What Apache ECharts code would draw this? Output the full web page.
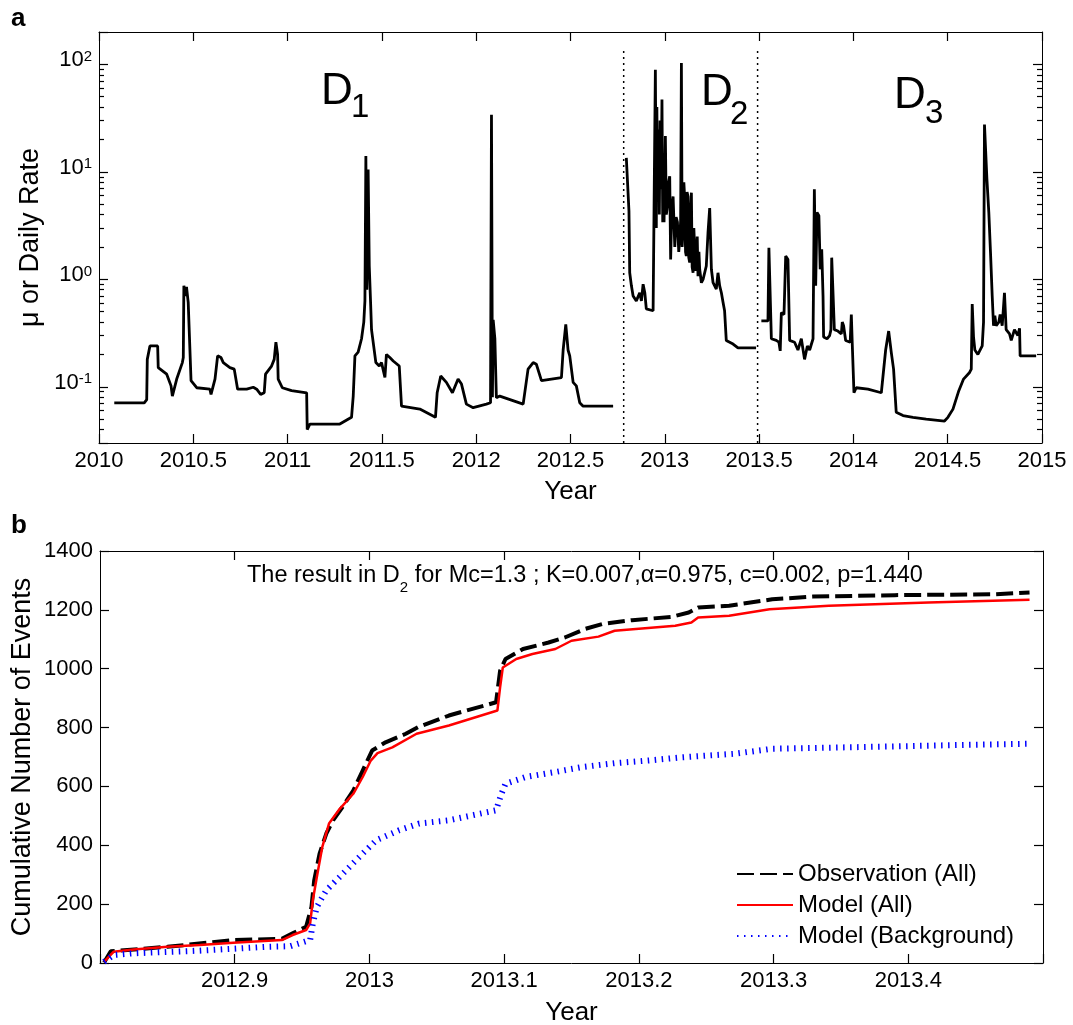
<!DOCTYPE html>
<html>
<head>
<meta charset="utf-8">
<title>Rate and cumulative number of events</title>
<script src="https://cdn.jsdelivr.net/npm/echarts@6/dist/echarts.min.js"></script>
<style>
  html, body { margin: 0; padding: 0; background: #fff; }
  #chart { width: 1073px; height: 1025px; }
</style>
</head>
<body>
<div id="chart"></div>
<script>
// panel a: mu or daily rate, one piece per period (D1, D2, D3)
const d1Years = [2010.081, 2010.240, 2010.253, 2010.256, 2010.270, 2010.311, 2010.314, 2010.359, 2010.382, 2010.389,
  2010.412, 2010.442, 2010.447, 2010.450, 2010.459, 2010.464, 2010.473, 2010.488, 2010.518, 2010.588,
  2010.594, 2010.615, 2010.629, 2010.647, 2010.659, 2010.694, 2010.717, 2010.735, 2010.783, 2010.818,
  2010.836, 2010.857, 2010.876, 2010.883, 2010.915, 2010.929, 2010.938, 2010.947, 2010.950, 2010.972,
  2011.021, 2011.101, 2011.104, 2011.118, 2011.277, 2011.339, 2011.348, 2011.357, 2011.374, 2011.392,
  2011.404, 2011.410, 2011.415, 2011.420, 2011.427, 2011.433, 2011.440, 2011.445, 2011.468, 2011.486,
  2011.498, 2011.516, 2011.524, 2011.542, 2011.560, 2011.592, 2011.604, 2011.701, 2011.784, 2011.793,
  2011.812, 2011.842, 2011.874, 2011.904, 2011.922, 2011.948, 2011.984, 2012.054, 2012.076, 2012.081,
  2012.086, 2012.090, 2012.099, 2012.107, 2012.125, 2012.249, 2012.275, 2012.302, 2012.319, 2012.346,
  2012.355, 2012.452, 2012.461, 2012.475, 2012.487, 2012.496, 2012.514, 2012.531, 2012.549, 2012.567,
  2012.726]
const d1Rates = [0.071, 0.071, 0.076, 0.18, 0.24, 0.24, 0.151, 0.131, 0.102, 0.082,
  0.118, 0.168, 0.187, 0.87, 0.70, 0.85, 0.61, 0.114, 0.098, 0.095,
  0.085, 0.118, 0.194, 0.187, 0.168, 0.151, 0.146, 0.095, 0.095, 0.099,
  0.095, 0.085, 0.088, 0.131, 0.156, 0.18, 0.26, 0.2, 0.118, 0.098,
  0.092, 0.088, 0.040, 0.045, 0.045, 0.052, 0.082, 0.194, 0.21, 0.28,
  0.40, 0.63, 14, 0.8, 10.5, 1.33, 0.61, 0.34, 0.168, 0.156,
  0.168, 0.122, 0.20, 0.187, 0.174, 0.156, 0.066, 0.062, 0.052, 0.088,
  0.126, 0.110, 0.088, 0.118, 0.106, 0.069, 0.064, 0.069, 0.071, 34,
  0.08, 0.42, 0.28, 0.079, 0.082, 0.069, 0.146, 0.168, 0.162, 0.114,
  0.110, 0.122, 0.22, 0.38, 0.22, 0.194, 0.110, 0.102, 0.071, 0.066,
  0.066]

const d2Years = [2012.796, 2012.805, 2012.810, 2012.814, 2012.823, 2012.832, 2012.849, 2012.867, 2012.876, 2012.885,
  2012.894, 2012.902, 2012.938, 2012.943, 2012.950, 2012.955, 2012.958, 2012.961, 2012.965, 2012.968,
  2012.971, 2012.975, 2012.978, 2012.982, 2012.985, 2012.989, 2012.993, 2012.996, 2013.000, 2013.003,
  2013.008, 2013.014, 2013.020, 2013.026, 2013.031, 2013.037, 2013.044, 2013.053, 2013.060, 2013.067,
  2013.074, 2013.079, 2013.084, 2013.088, 2013.092, 2013.097, 2013.101, 2013.105, 2013.110, 2013.114,
  2013.118, 2013.123, 2013.127, 2013.132, 2013.137, 2013.141, 2013.145, 2013.150, 2013.154, 2013.158,
  2013.163, 2013.167, 2013.172, 2013.176, 2013.181, 2013.185, 2013.194, 2013.203, 2013.220, 2013.229,
  2013.238, 2013.247, 2013.256, 2013.273, 2013.282, 2013.291, 2013.300, 2013.309, 2013.317, 2013.326,
  2013.335, 2013.362, 2013.388, 2013.484]
const d2Rates = [13.5, 13.5, 4.3, 1.15, 0.87, 0.70, 0.63, 0.75, 0.63, 0.90,
  0.75, 0.53, 0.51, 4.5, 89, 3.0, 40, 6.9, 20, 24.8,
  4.0, 30, 6.9, 12, 47, 3.4, 15, 3.4, 9.0, 21.5,
  4.0, 4.8, 8.0, 9.1, 1.53, 4.5, 5.9, 2.0, 3.8, 3.4,
  1.8, 2.35, 3.5, 103, 2.0, 2.9, 8.0, 5.9, 1.8, 1.65,
  6.5, 5.9, 1.6, 1.43, 4.5, 6.4, 1.3, 1.15, 3.0, 2.0,
  1.2, 1.53, 2.5, 1.07, 1.8, 1.24, 0.93, 1.0, 1.33, 2.7,
  4.6, 1.24, 0.93, 0.81, 1.15, 0.87, 0.75, 0.61, 0.51, 0.27,
  0.26, 0.25, 0.23, 0.23]

const d3Years = [2013.512, 2013.547, 2013.552, 2013.559, 2013.565, 2013.591, 2013.605, 2013.612, 2013.618, 2013.632,
  2013.641, 2013.653, 2013.662, 2013.688, 2013.706, 2013.724, 2013.741, 2013.756, 2013.768, 2013.786,
  2013.793, 2013.800, 2013.807, 2013.817, 2013.824, 2013.832, 2013.839, 2013.842, 2013.860, 2013.874,
  2013.881, 2013.885, 2013.892, 2013.899, 2013.918, 2013.936, 2013.941, 2013.948, 2013.959, 2013.983,
  2013.989, 2013.994, 2014.003, 2014.015, 2014.077, 2014.148, 2014.157, 2014.171, 2014.187, 2014.201,
  2014.213, 2014.227, 2014.263, 2014.316, 2014.386, 2014.483, 2014.501, 2014.528, 2014.559, 2014.584,
  2014.616, 2014.625, 2014.630, 2014.637, 2014.644, 2014.660, 2014.669, 2014.683, 2014.690, 2014.695,
  2014.708, 2014.718, 2014.727, 2014.736, 2014.743, 2014.750, 2014.757, 2014.771, 2014.778, 2014.789,
  2014.801, 2014.810, 2014.828, 2014.837, 2014.854, 2014.872, 2014.881, 2014.884, 2014.969]
const d3Rates = [0.41, 0.41, 1.97, 1.97, 0.28, 0.27, 0.26, 0.216, 0.49, 0.47,
  1.65, 1.53, 0.27, 0.26, 0.22, 0.28, 0.18, 0.24, 0.22, 0.28,
  6.9, 0.87, 4.2, 3.9, 1.24, 1.9, 0.70, 0.29, 0.28, 0.30,
  0.34, 1.59, 1.53, 0.34, 0.33, 0.31, 0.40, 0.37, 0.27, 0.26,
  0.47, 0.25, 0.088, 0.098, 0.095, 0.088, 0.126, 0.22, 0.33, 0.208,
  0.146, 0.058, 0.054, 0.052, 0.050, 0.048, 0.052, 0.062, 0.092, 0.118,
  0.136, 0.146, 0.59, 0.29, 0.22, 0.20, 0.194, 0.24, 0.40, 27.6,
  8.5, 4.2, 1.77, 0.70, 0.37, 0.46, 0.37, 0.40, 0.47, 0.37,
  0.75, 0.34, 0.31, 0.27, 0.34, 0.30, 0.35, 0.194, 0.194]

// dotted lines separating the periods
const dividerYears = [2012.782, 2013.492]
const dividerRange = [0.03, 137]

// panel b: cumulative number of events in D2
const obsYears = [2012.803, 2012.808, 2012.850, 2012.899, 2012.935, 2012.943, 2012.953, 2012.957, 2012.959, 2012.963,
  2012.968, 2012.973, 2012.980, 2012.988, 2012.995, 2013.002, 2013.012, 2013.027, 2013.036, 2013.059,
  2013.094, 2013.097, 2013.101, 2013.114, 2013.133, 2013.145, 2013.160, 2013.173, 2013.195, 2013.224,
  2013.237, 2013.244, 2013.267, 2013.299, 2013.329, 2013.390, 2013.464, 2013.490]
const obsCounts = [2, 40, 55, 78, 82, 101, 123, 191, 281, 372,
  440, 485, 530, 586, 654, 722, 750, 779, 801, 841,
  886, 993, 1033, 1067, 1089, 1106, 1135, 1152, 1165, 1176,
  1191, 1208, 1214, 1236, 1245, 1250, 1253, 1259]

const modelYears = [2012.803, 2012.810, 2012.825, 2012.850, 2012.874, 2012.899, 2012.935, 2012.943, 2012.953, 2012.956,
  2012.958, 2012.961, 2012.965, 2012.970, 2012.978, 2012.988, 2012.995, 2013.001, 2013.006, 2013.017,
  2013.035, 2013.059, 2013.095, 2013.097, 2013.099, 2013.109, 2013.121, 2013.138, 2013.150, 2013.170,
  2013.182, 2013.227, 2013.239, 2013.244, 2013.267, 2013.297, 2013.341, 2013.415, 2013.490]
const modelCounts = [4, 38, 46, 55, 61, 69, 78, 95, 112, 135,
  214, 293, 394, 474, 524, 575, 632, 688, 713, 733,
  779, 807, 858, 937, 1004, 1033, 1050, 1067, 1095, 1109,
  1129, 1146, 1157, 1174, 1180, 1202, 1214, 1225, 1234]

const bgYears = [2012.803, 2012.810, 2012.825, 2012.874, 2012.924, 2012.941, 2012.956, 2012.958, 2012.961, 2012.968,
  2012.978, 2012.990, 2013.005, 2013.022, 2013.037, 2013.059, 2013.094, 2013.098, 2013.101, 2013.116,
  2013.138, 2013.158, 2013.182, 2013.207, 2013.232, 2013.271, 2013.299, 2013.390, 2013.440, 2013.490]
const bgCounts = [4, 27, 33, 42, 55, 57, 78, 135, 191, 247,
  293, 349, 417, 451, 474, 485, 519, 575, 609, 632,
  649, 666, 679, 688, 699, 711, 728, 736, 741, 745]

const seriesNames = ['Observation (All)', 'Model (All)', 'Model (Background)']

// tick positions
const rateMajorTicks = [0.1, 1, 10, 100]
const topYearTicks = [2010, 2010.5, 2011, 2011.5, 2012, 2012.5, 2013, 2013.5, 2014, 2014.5, 2015]
const bottomYearTicks = [2012.9, 2013, 2013.1, 2013.2, 2013.3, 2013.4]
const countTicks = [0, 200, 400, 600, 800, 1000, 1200, 1400]

const titleParts = ['The result in D', '2', ' for Mc=1.3 ; K=0.007,α=0.975, c=0.002, p=1.440']

const font = 'Liberation Sans, Arial, Helvetica, sans-serif'

// minor ticks of the log axis (2..9 x 10^n)
const rateMinorTicks = []
for (let e = -2; e <= 2; e++) {
  for (let m = 2; m <= 9; m++) {
    const v = +(m * Math.pow(10, e)).toPrecision(3)
    if (v > 0.03 && v < 200) rateMinorTicks.push(v)
  }
}

const zip = (xs, ys) => xs.map((x, i) => [x, ys[i]])
const near = (v, list) => list.some(t => Math.abs(t - v) < 1e-6)
const yearLabel = list => v => near(v, list) ? String(+(+v).toFixed(2)) : ''
const powerLabel = v => {
  const e = Math.log10(v)
  if (Math.abs(e - Math.round(e)) > 1e-6) return ''
  return '{b|10}{e|' + Math.round(e) + '}'
}

// text widths for placing the subscript in the title
const ctx = document.createElement('canvas').getContext('2d')
const textWidth = (s, f) => { ctx.font = f; return ctx.measureText(s).width }
const titleFont = '23.5px ' + font
const subFont = '15px ' + font
const titleX = 247
const subX = titleX + textWidth(titleParts[0], titleFont)
const restX = subX + textWidth(titleParts[1], subFont)

const frameLine = () => ({ show: true, onZero: false, lineStyle: { color: '#000', width: 1 } })
// plain inward ticks on the labelled axes (their own interval gives the positions)
const plainTick = () => ({ show: true, inside: true, length: 9, lineStyle: { color: '#000', width: 1.2 } })
const tickText = () => ({ color: '#000', fontSize: 22, fontFamily: font })
const nameText = size => ({ color: '#000', fontSize: size, fontFamily: font })

const topBox = { left: 99, top: 32, width: 943, height: 411 }
const bottomBox = { left: 100, top: 551, width: 943, height: 412 }
const gridOf = box => Object.assign({ show: false, outerBoundsMode: 'none', containLabel: false }, box)

// tick-only axes on the top and right edges; the left minor ticks use a right axis moved to the left edge
const tickX = (gridIndex, min, max, ticks) => ({
  gridIndex, type: 'value', position: 'top', min, max,
  axisLine: frameLine(),
  axisTick: { show: true, inside: true, length: 9, customValues: ticks, lineStyle: { color: '#000', width: 1.2 } },
  axisLabel: { show: false }, splitLine: { show: false }
})
const tickY = (gridIndex, type, min, max, ticks, len, shiftTo, withLine) => ({
  gridIndex, type, position: 'right', min, max, offset: shiftTo || 0,
  axisLine: { show: !!withLine, onZero: false, lineStyle: { color: '#000', width: 1 } },
  axisTick: { show: true, inside: !shiftTo, length: len, customValues: ticks, lineStyle: { color: '#000', width: 1.2 } },
  axisLabel: { show: false }, splitLine: { show: false }
})
const hiddenX = (gridIndex, min, max) => ({ gridIndex, type: 'value', min, max, show: false })

const chart = echarts.init(document.getElementById('chart'))

const option = {
  animation: false,
  backgroundColor: '#fff',
  grid: [
    gridOf(topBox), gridOf(topBox), gridOf(topBox), gridOf(topBox),
    gridOf(bottomBox), gridOf(bottomBox)
  ],
  xAxis: [
    {
      gridIndex: 0, type: 'value', position: 'bottom', min: 2010, max: 2015, interval: 0.5,
      axisLine: frameLine(), axisTick: plainTick(), splitLine: { show: false },
      axisLabel: Object.assign({ margin: 7, formatter: yearLabel(topYearTicks) }, tickText()),
      name: 'Year', nameLocation: 'middle', nameGap: 36, nameMoveOverlap: false, nameTextStyle: nameText(26)
    },
    tickX(1, 2010, 2015, topYearTicks),
    hiddenX(2, 2010, 2015),
    hiddenX(3, 2010, 2015),
    {
      gridIndex: 4, type: 'value', position: 'bottom', min: 2012.8, max: 2013.5, interval: 0.1,
      axisLine: frameLine(), axisTick: plainTick(), splitLine: { show: false },
      axisLabel: Object.assign({ margin: 7, formatter: yearLabel(bottomYearTicks) }, tickText()),
      name: 'Year', nameLocation: 'middle', nameGap: 37, nameMoveOverlap: false, nameTextStyle: nameText(26)
    },
    tickX(5, 2012.8, 2013.5, bottomYearTicks)
  ],
  yAxis: [
    {
      gridIndex: 0, type: 'log', logBase: 10, position: 'left', min: 0.03, max: 200,
      axisLine: frameLine(), splitLine: { show: false }, axisTick: plainTick(),
      axisLabel: {
        margin: 7,
        formatter: powerLabel,
        rich: {
          b: { color: '#000', fontSize: 22, fontFamily: font, lineHeight: 30, verticalAlign: 'top' },
          e: { color: '#000', fontSize: 15, fontFamily: font, lineHeight: 15, verticalAlign: 'top' }
        }
      },
      name: 'μ or Daily Rate', nameLocation: 'middle', nameRotate: 90, nameGap: 55, nameMoveOverlap: false,
      nameTextStyle: nameText(27)
    },
    tickY(1, 'log', 0.03, 200, rateMajorTicks, 9, 0, true),
    tickY(2, 'log', 0.03, 200, rateMinorTicks, 5),
    tickY(3, 'log', 0.03, 200, rateMinorTicks, 5, -topBox.width),
    {
      gridIndex: 4, type: 'value', position: 'left', min: 0, max: 1400, interval: 200,
      axisLine: frameLine(), axisTick: plainTick(), splitLine: { show: false },
      axisLabel: Object.assign({ margin: 7, formatter: v => String(v) }, tickText()),
      name: 'Cumulative Number of Events', nameLocation: 'middle', nameRotate: 90, nameGap: 64,
      nameMoveOverlap: false, nameTextStyle: nameText(27)
    },
    tickY(5, 'value', 0, 1400, countTicks, 9, 0, true)
  ],
  legend: {
    data: seriesNames,
    orient: 'vertical',
    left: 736,
    top: 862,
    padding: 0,
    itemWidth: 56,
    itemHeight: 14,
    itemGap: 7,
    selectedMode: false,
    itemStyle: { opacity: 0 },
    textStyle: { color: '#000', fontSize: 24, fontFamily: font, lineHeight: 24 }
  },
  series: [
    { name: 'D1', type: 'line', xAxisIndex: 0, yAxisIndex: 0, data: zip(d1Years, d1Rates), symbol: 'none',
      lineStyle: { color: '#000', width: 2.8 }, itemStyle: { color: '#000' } },
    { name: 'D2', type: 'line', xAxisIndex: 0, yAxisIndex: 0, data: zip(d2Years, d2Rates), symbol: 'none',
      lineStyle: { color: '#000', width: 2.8 }, itemStyle: { color: '#000' } },
    { name: 'D3', type: 'line', xAxisIndex: 0, yAxisIndex: 0, data: zip(d3Years, d3Rates), symbol: 'none',
      lineStyle: { color: '#000', width: 2.8 }, itemStyle: { color: '#000' } },
    ...dividerYears.map(x => ({
      name: 'divider', type: 'line', xAxisIndex: 0, yAxisIndex: 0, symbol: 'none', silent: true,
      data: dividerRange.map(v => [x, v]),
      lineStyle: { color: '#000', width: 1.5, type: [2, 4] }
    })),
    { name: seriesNames[0], type: 'line', xAxisIndex: 4, yAxisIndex: 4, data: zip(obsYears, obsCounts), symbol: 'none',
      lineStyle: { color: '#000', width: 4, type: [17, 6] }, itemStyle: { color: '#000' } },
    { name: seriesNames[1], type: 'line', xAxisIndex: 4, yAxisIndex: 4, data: zip(modelYears, modelCounts), symbol: 'none',
      lineStyle: { color: '#ff0000', width: 2.5 }, itemStyle: { color: '#ff0000' } },
    { name: seriesNames[2], type: 'line', xAxisIndex: 4, yAxisIndex: 4, data: zip(bgYears, bgCounts), symbol: 'none',
      lineStyle: { color: '#0000ff', width: 6, type: [1.5, 5.5], cap: 'butt' }, itemStyle: { color: '#0000ff' } }
  ],
  graphic: [
    { type: 'text', x: 11, y: 6, style: { text: 'a', font: 'bold 26px ' + font, fill: '#000', align: 'left', verticalAlign: 'top' } },
    { type: 'text', x: 11, y: 513, style: { text: 'b', font: 'bold 26px ' + font, fill: '#000', align: 'left', verticalAlign: 'top' } },
    { type: 'text', x: 321, y: 70, style: { text: 'D', font: '44px ' + font, fill: '#000', align: 'left', verticalAlign: 'top' } },
    { type: 'text', x: 351, y: 91, style: { text: '1', font: '33px ' + font, fill: '#000', align: 'left', verticalAlign: 'top' } },
    { type: 'text', x: 701, y: 71, style: { text: 'D', font: '44px ' + font, fill: '#000', align: 'left', verticalAlign: 'top' } },
    { type: 'text', x: 730, y: 98, style: { text: '2', font: '33px ' + font, fill: '#000', align: 'left', verticalAlign: 'top' } },
    { type: 'text', x: 894, y: 74, style: { text: 'D', font: '44px ' + font, fill: '#000', align: 'left', verticalAlign: 'top' } },
    { type: 'text', x: 925, y: 97, style: { text: '3', font: '33px ' + font, fill: '#000', align: 'left', verticalAlign: 'top' } },
    { type: 'text', x: titleX, y: 564, style: { text: titleParts[0], font: titleFont, fill: '#000', align: 'left', verticalAlign: 'top' } },
    { type: 'text', x: subX, y: 580, style: { text: titleParts[1], font: subFont, fill: '#000', align: 'left', verticalAlign: 'top' } },
    { type: 'text', x: restX, y: 564, style: { text: titleParts[2], font: titleFont, fill: '#000', align: 'left', verticalAlign: 'top' } }
  ]
}

chart.setOption(option)
</script>
</body>
</html>
